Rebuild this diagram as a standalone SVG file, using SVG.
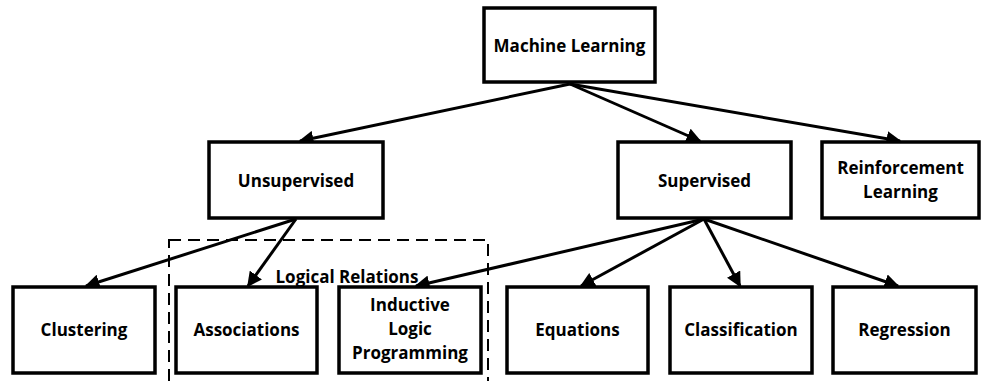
<svg xmlns="http://www.w3.org/2000/svg" width="986" height="381" viewBox="0 0 986 381">
  <style>
    .box { fill: #fff; stroke: #000; stroke-width: 3.5; }
    .lbl { font-family: "Open Sans", "Liberation Sans", sans-serif; font-weight: bold; font-size: 17px; text-anchor: middle; fill: #000; }
    .edge { stroke: #000; stroke-width: 3; fill: none; marker-end: url(#arrow); }
    .group { fill: none; stroke: #000; stroke-width: 2; stroke-dasharray: 12 7; }
  </style>
  <defs>
    <marker id="arrow" viewBox="0 0 10 10" refX="9" refY="5" markerWidth="5" markerHeight="5" orient="auto" markerUnits="strokeWidth">
      <path d="M0,0 L10,5 L0,10 z" fill="#000"/>
    </marker>
  </defs>
  <rect width="986" height="381" fill="#fff"/>

  <!-- dashed grouping for logical-relation methods -->
  <g id="logical-relations">
    <rect class="group" x="169" y="240" width="319" height="160"/>
    <text class="lbl" x="347" y="283">Logical Relations</text>
  </g>

  <g id="connectors">
    <line class="edge" x1="570" y1="84" x2="300" y2="141"/>
    <line class="edge" x1="570" y1="84" x2="700" y2="141"/>
    <line class="edge" x1="570" y1="84" x2="900" y2="141"/>
    <line class="edge" x1="296" y1="219" x2="86" y2="286"/>
    <line class="edge" x1="296" y1="219" x2="248" y2="286"/>
    <line class="edge" x1="704" y1="219" x2="416" y2="286"/>
    <line class="edge" x1="704" y1="219" x2="581" y2="286"/>
    <line class="edge" x1="704" y1="219" x2="740" y2="286"/>
    <line class="edge" x1="704" y1="219" x2="898" y2="286"/>
  </g>

  <g id="machine-learning">
    <rect class="box" x="484" y="8" width="171" height="74"/>
    <text class="lbl" x="569.5" y="52">Machine Learning</text>
  </g>
  <g id="unsupervised">
    <rect class="box" x="209" y="142" width="174" height="76"/>
    <text class="lbl" x="296" y="187">Unsupervised</text>
  </g>
  <g id="supervised">
    <rect class="box" x="618" y="142" width="173" height="76"/>
    <text class="lbl" x="704.5" y="187">Supervised</text>
  </g>
  <g id="reinforcement-learning">
    <rect class="box" x="822" y="142" width="157" height="76"/>
    <text class="lbl" x="900.5" y="174">Reinforcement</text>
    <text class="lbl" x="900.5" y="198">Learning</text>
  </g>
  <g id="clustering">
    <rect class="box" x="13" y="287" width="142" height="86"/>
    <text class="lbl" x="84" y="336">Clustering</text>
  </g>
  <g id="associations">
    <rect class="box" x="176" y="287" width="141" height="86"/>
    <text class="lbl" x="246.5" y="336">Associations</text>
  </g>
  <g id="inductive-logic-programming">
    <rect class="box" x="339" y="287" width="142" height="86"/>
    <text class="lbl" x="410" y="311">Inductive</text>
    <text class="lbl" x="410" y="335">Logic</text>
    <text class="lbl" x="410" y="359">Programming</text>
  </g>
  <g id="equations">
    <rect class="box" x="507" y="287" width="141" height="86"/>
    <text class="lbl" x="577.5" y="336">Equations</text>
  </g>
  <g id="classification">
    <rect class="box" x="670" y="287" width="142" height="86"/>
    <text class="lbl" x="741" y="336">Classification</text>
  </g>
  <g id="regression">
    <rect class="box" x="833" y="287" width="143" height="86"/>
    <text class="lbl" x="904.5" y="336">Regression</text>
  </g>
</svg>
